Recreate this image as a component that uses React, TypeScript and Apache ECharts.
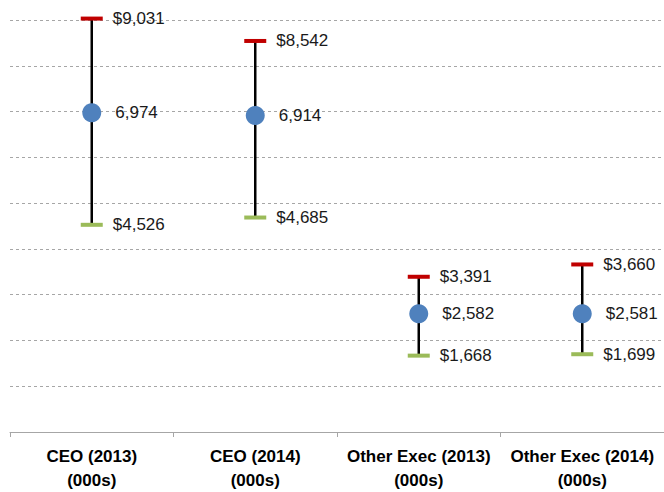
import React, { useEffect, useRef } from "react";
import * as echarts from "echarts";

const categories = [
  "CEO (2013)\n(000s)",
  "CEO (2014)\n(000s)",
  "Other Exec (2013)\n(000s)",
  "Other Exec (2014)\n(000s)",
];
const highs = [9031, 8542, 3391, 3660];
const medians = [6974, 6914, 2582, 2581];
const lows = [4526, 4685, 1668, 1699];
const medianPrefix = ["", "", "$", "$"];

const fmt = (v: number) => v.toLocaleString("en-US");

export default function App() {
  const ref = useRef<HTMLDivElement>(null);
  useEffect(() => {
    if (!ref.current) return;
    const chart = echarts.init(ref.current, null, { renderer: "svg" });
    const labelStyle = {
      show: true,
      position: "right" as const,
      fontFamily: "Liberation Sans",
      fontSize: 17,
      color: "#1a1a1a",
    };
    chart.setOption({
      animation: false,
      grid: { left: 10, right: -6, top: 20, bottom: 60 },
      xAxis: {
        type: "category",
        data: categories,
        boundaryGap: true,
        axisLine: { lineStyle: { color: "#a6a6a6", width: 1 } },
        axisTick: { show: true, length: 5, interval: 0, lineStyle: { color: "#a6a6a6" } },
        axisLabel: {
          interval: 0,
          fontFamily: "Liberation Sans",
          fontWeight: "bold",
          fontSize: 17,
          color: "#000",
          lineHeight: 24,
          margin: 12,
        },
      },
      yAxis: {
        type: "value",
        min: 0,
        max: 9000,
        interval: 1000,
        axisLabel: { show: false },
        axisLine: { show: false },
        axisTick: { show: false },
        splitLine: { lineStyle: { color: "#a6a6a6", type: [3, 3], width: 1 } },
      },
      series: [
        {
          type: "custom",
          clip: false,
          z: 2,
          data: categories.map((_, i) => [i, lows[i], highs[i]]),
          renderItem: (params: any, api: any) => {
            const p1 = api.coord([api.value(0), api.value(1)]);
            const p2 = api.coord([api.value(0), api.value(2)]);
            return {
              type: "line",
              shape: { x1: p1[0], y1: p1[1], x2: p2[0], y2: p2[1] },
              style: { stroke: "#000", lineWidth: 2.5 },
            };
          },
        },
        {
          type: "scatter",
          clip: false,
          z: 3,
          symbol: "rect",
          symbolSize: [22, 4],
          itemStyle: { color: "#C00000", opacity: 1 },
          data: highs.map((v, i) => [i, v]),
          label: {
            ...labelStyle,
            distance: 10,
            formatter: (p: any) => "$" + fmt(p.value[1]),
          },
        },
        {
          type: "scatter",
          clip: false,
          z: 3,
          symbol: "rect",
          symbolSize: [22, 4],
          itemStyle: { color: "#9BBB59", opacity: 1 },
          data: lows.map((v, i) => [i, v]),
          label: {
            ...labelStyle,
            distance: 10,
            formatter: (p: any) => "$" + fmt(p.value[1]),
          },
        },
        {
          type: "scatter",
          clip: false,
          z: 4,
          symbol: "circle",
          symbolSize: 19,
          itemStyle: { color: "#4F81BD", opacity: 1 },
          data: medians.map((v, i) => [i, v]),
          label: {
            ...labelStyle,
            distance: 14,
            formatter: (p: any) => medianPrefix[p.dataIndex] + fmt(p.value[1]),
          },
        },
      ],
    });
    return () => chart.dispose();
  }, []);
  return <div ref={ref} style={{ width: 664, height: 492, position: "absolute", left: 0, top: 0 }} />;
}
